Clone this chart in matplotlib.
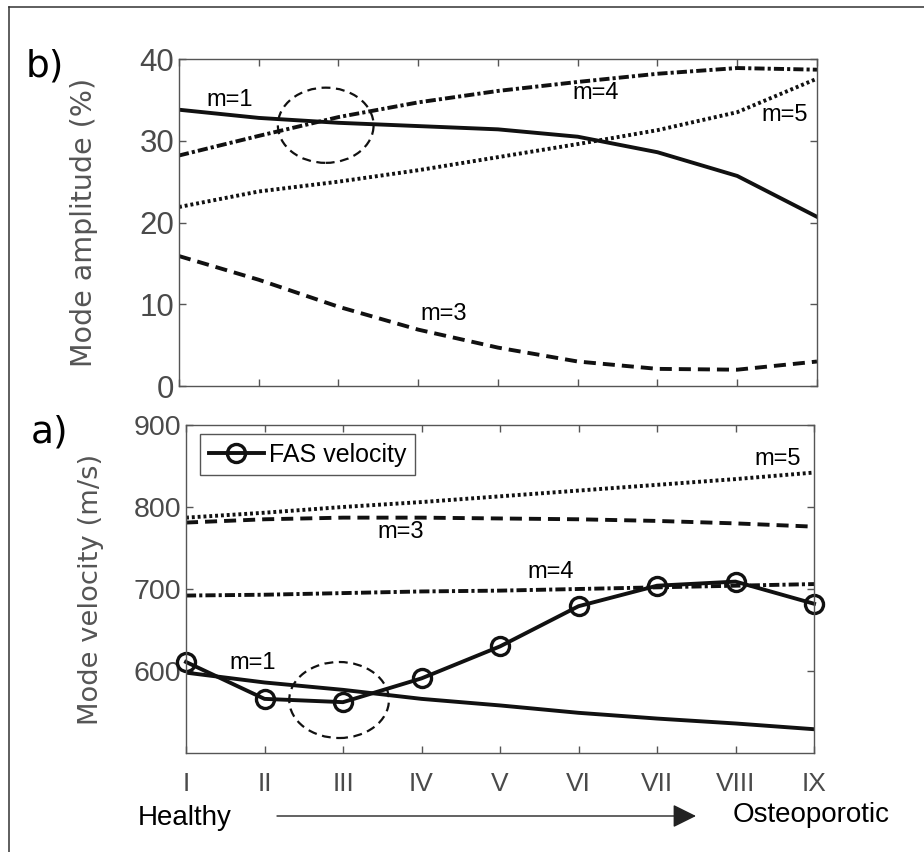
import numpy as np
import matplotlib
matplotlib.use("Agg")
import matplotlib.pyplot as plt
from matplotlib.patches import Ellipse, FancyArrowPatch
from matplotlib.lines import Line2D

# Donnees
stages = ['I', 'II', 'III', 'IV', 'V', 'VI', 'VII', 'VIII', 'IX']

amp_m1 = [33.8, 32.8, 32.2, 31.8, 31.4, 30.5, 28.6, 25.7, 20.7]
amp_m3 = [15.9, 13.0, 9.7, 6.9, 4.7, 3.0, 2.1, 2.0, 3.0]
amp_m4 = [28.2, 30.6, 32.9, 34.7, 36.1, 37.2, 38.2, 38.9, 38.7]
amp_m5 = [21.9, 23.8, 25.0, 26.4, 28.0, 29.6, 31.3, 33.5, 37.6]

vel_fas = [611, 566, 562, 591, 630, 679, 704, 709, 682]
vel_m1 = [598, 586, 577, 566, 558, 549, 542, 536, 529]
vel_m3 = [781, 785, 787, 787, 786, 785, 783, 780, 776]
vel_m4 = [692, 693, 695, 697, 698, 700, 702, 704, 706]
vel_m5 = [787, 793, 800, 806, 813, 820, 827, 834, 842]

x = np.arange(1, len(stages) + 1)

LINE = '#111111'
GREY = '#555555'
TICK = '#4a4a4a'
LW = 2.8
ANN = 17
DASH = (3.1, 1.8)
DASHDOT = (2.6, 0.8, 0.8, 0.8)
DOT = (0.75, 0.75)

plt.rcParams['font.family'] = 'Liberation Sans'

fig = plt.figure(figsize=(9.24, 8.52), dpi=100)
ax_b = fig.add_axes([0.1937, 0.5469, 0.6905, 0.3838])
ax_a = fig.add_axes([0.2013, 0.1162, 0.6797, 0.3850])


def style(ax):
    for s in ax.spines.values():
        s.set_color(GREY)
        s.set_linewidth(1.0)
    ax.tick_params(direction='in', length=5, width=1.0, color=GREY,
                   top=True, right=True, labelcolor=TICK)
    ax.set_xlim(1, 9)
    ax.set_xticks(x)


# b) amplitudes
ax_b.plot(x, amp_m1, color=LINE, lw=LW)
ax_b.plot(x, amp_m3, color=LINE, lw=LW, dashes=DASH)
ax_b.plot(x, amp_m4, color=LINE, lw=LW, dashes=DASHDOT)
ax_b.plot(x, amp_m5, color=LINE, lw=LW, dashes=DOT)
ax_b.add_patch(Ellipse((2.84, 31.9), 1.2, 9.2, fill=False, ec=LINE,
                       lw=1.6, ls=(0, (4, 2.5))))
style(ax_b)
ax_b.set_ylim(0, 40)
ax_b.set_yticks([0, 10, 20, 30, 40])
ax_b.set_xticklabels([])
ax_b.tick_params(axis='y', labelsize=22.5)
ax_b.set_ylabel('Mode amplitude (%)', family='DejaVu Sans', fontsize=20.5,
                color=GREY)
ax_b.yaxis.set_label_coords(-0.127, 0.5)
ax_b.text(1.64, 35.0, 'm=1', fontsize=ANN, ha='center', va='center')
ax_b.text(6.23, 35.8, 'm=4', fontsize=ANN, ha='center', va='center')
ax_b.text(8.59, 33.1, 'm=5', fontsize=ANN, ha='center', va='center')
ax_b.text(4.32, 8.8, 'm=3', fontsize=ANN, ha='center', va='center')

# a) vitesses
ax_a.plot(x, vel_m1, color=LINE, lw=LW)
ax_a.plot(x, vel_m3, color=LINE, lw=LW, dashes=DASH)
ax_a.plot(x, vel_m4, color=LINE, lw=LW, dashes=DASHDOT)
ax_a.plot(x, vel_m5, color=LINE, lw=LW, dashes=DOT)
fas, = ax_a.plot(x, vel_fas, color=LINE, lw=LW, marker='o', ms=13,
                 mfc='none', mew=2.4, label='FAS velocity', clip_on=False)
ax_a.add_patch(Ellipse((2.95, 564.6), 1.27, 92.7, fill=False, ec=LINE,
                       lw=1.6, ls=(0, (4, 2.5))))
style(ax_a)
ax_a.set_ylim(500, 900)
ax_a.set_yticks([600, 700, 800, 900])
ax_a.set_xticklabels(stages)
ax_a.tick_params(axis='y', labelsize=20.5)
ax_a.tick_params(axis='x', labelsize=19, pad=14)
ax_a.set_ylabel('Mode velocity (m/s)', family='DejaVu Sans', fontsize=19.7,
                color=GREY)
ax_a.yaxis.set_label_coords(-0.131, 0.5)
ax_a.text(8.54, 858.5, 'm=5', fontsize=ANN, ha='center', va='center')
ax_a.text(3.74, 769.5, 'm=3', fontsize=ANN, ha='center', va='center')
ax_a.text(5.65, 720.7, 'm=4', fontsize=ANN, ha='center', va='center')
ax_a.text(1.85, 609.8, 'm=1', fontsize=ANN, ha='center', va='center')

leg = ax_a.legend(handles=[fas], loc='upper left', bbox_to_anchor=(0.022, 0.973),
                  borderaxespad=0, fontsize=18, fancybox=False, framealpha=1,
                  edgecolor=GREY, handlelength=2.2, handletextpad=0.2,
                  borderpad=0.35)
leg.get_frame().set_linewidth(1.0)

# Etiquettes de figure
fig.text(45 / 924, 1 - 66 / 852, 'b)', family='DejaVu Sans', fontsize=27,
         ha='center', va='center')
fig.text(50 / 924, 1 - 432 / 852, 'a)', family='DejaVu Sans', fontsize=27,
         ha='center', va='center')
fig.text(185 / 924, 1 - 818 / 852, 'Healthy', fontsize=20,
         ha='center', va='center')
fig.text(811 / 924, 1 - 815 / 852, 'Osteoporotic', fontsize=20,
         ha='center', va='center')
fig.patches.append(FancyArrowPatch(
    (277 / 924, 1 - 816 / 852), (696 / 924, 1 - 816 / 852),
    transform=fig.transFigure, arrowstyle='-|>,head_length=1.45,head_width=0.72',
    mutation_scale=10, lw=1.0, color='#222222', shrinkA=0, shrinkB=0))

# Cadre
fig.add_artist(Line2D([9 / 924, 9 / 924], [0, 1 - 7 / 852],
                      transform=fig.transFigure, color='#333333', lw=1.1))
fig.add_artist(Line2D([9 / 924, 1], [1 - 7 / 852, 1 - 7 / 852],
                      transform=fig.transFigure, color='#333333', lw=1.1))

fig.savefig('out.png', dpi=100)
